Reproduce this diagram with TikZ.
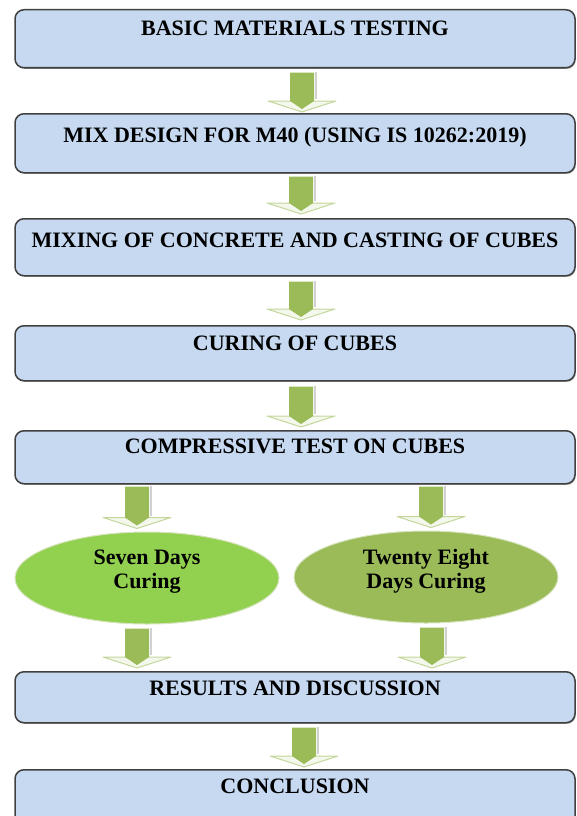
\documentclass[tikz,border=0pt]{standalone}
\usepackage{fontspec}
\setmainfont{Liberation Serif}
\usetikzlibrary{shapes.geometric,calc,shadows}

\definecolor{boxfill}{HTML}{C6D9F1}
\definecolor{boxedge}{HTML}{404040}
\definecolor{arrowgreen}{HTML}{9BBB59}
\definecolor{headfill}{HTML}{F4F8EC}
\definecolor{headedge}{HTML}{C3D69B}
\definecolor{brightgreen}{HTML}{92D050}
\definecolor{olivegreen}{HTML}{9BBB59}
\definecolor{ovaledge}{HTML}{D7E4BD}

\tikzset{
  stage/.style={rectangle, rounded corners=9pt, fill=boxfill, draw=boxedge,
    line width=1.5pt, minimum width=560pt, inner xsep=0pt, inner ysep=0pt,
    anchor=north, font=\fontsize{22}{24}\selectfont\bfseries,
    drop shadow={shadow xshift=0.8pt, shadow yshift=-1.2pt, fill=black, opacity=0.3}},
  oval/.style={ellipse, draw=ovaledge, line width=1pt, inner sep=0pt,
    minimum width=264pt, minimum height=92pt, align=center,
    font=\fontsize{22}{24}\selectfont\bfseries},
  arrowshadow/.style={draw=black!18, line width=1.2pt},
  arrowhead/.style={fill=headfill, draw=headedge, line width=1pt, line join=round},
  arrowbody/.style={fill=arrowgreen}
}

% wide block arrow: green shaft from #1 down to the tip #2
\newcommand\blockarrow[2]{%
  \draw[arrowshadow] let \p1=(#1), \p2=(#2) in (\x1+14pt,\y1+1pt) -- (\x1+14pt,\y2+13pt);
  \filldraw[arrowhead] let \p1=(#1), \p2=(#2) in
    (\x1-34pt,\y2+11pt) -- (\x1+34pt,\y2+11pt) -- (\x1,\y2) -- cycle;
  \fill[arrowbody] let \p1=(#1), \p2=(#2) in
    (\x1-12pt,\y1) -- (\x1+12pt,\y1) -- (\x1+12pt,\y2+11pt) -- (\x1,\y2+3pt)
    -- (\x1-12pt,\y2+11pt) -- cycle;
}

\begin{document}
\begin{tikzpicture}[x=1pt,y=-1pt]
  \useasboundingbox (0,0) rectangle (576,816);
  \clip (0,0) rectangle (576,816);

  % process stages
  \node[stage, text height=26pt, text depth=32pt] (b1) at (295,9) {BASIC MATERIALS TESTING};
  \node[stage, text height=29pt, text depth=30pt] (b2) at (295,113) {MIX DESIGN FOR M40 (USING IS 10262:2019)};
  \node[stage, text height=29pt, text depth=28pt] (b3) at (295,218) {MIXING OF CONCRETE AND CASTING OF CUBES};
  \node[stage, text height=25pt, text depth=30pt] (b4) at (295,325) {CURING OF CUBES};
  \node[stage, text height=23pt, text depth=30pt] (b5) at (295,430) {COMPRESSIVE TEST ON CUBES};

  % curing periods
  \node[oval, fill=brightgreen] (c7) at (147,578) {Seven Days\\Curing\\[-14pt]\strut};
  \node[oval, fill=olivegreen] (c28) at (426,577) {Twenty Eight\\Days Curing\\[-14pt]\strut};

  \node[stage, text height=24pt, text depth=27pt] (b6) at (295,671) {RESULTS AND DISCUSSION};
  \node[stage, text height=24pt, text depth=50pt] (b7) at (295,769) {CONCLUSION};

  % flow arrows
  \blockarrow{$(b1.south)+(7,4)$}{$(b2.north)+(7,-1)$}
  \blockarrow{$(b2.south)+(6,3)$}{$(b3.north)+(6,-4)$}
  \blockarrow{$(b3.south)+(6,5)$}{$(b4.north)+(6,-5)$}
  \blockarrow{$(b4.south)+(6,5)$}{$(b5.north)+(6,-3)$}
  \blockarrow{$(b5.south -| c7.north)+(-10,2)$}{$(c7.north)+(-10,-3)$}
  \blockarrow{$(b5.south -| c28.north)+(5,2)$}{$(c28.north)+(5,-3)$}
  \blockarrow{$(c7.south)+(-10,4)$}{$(b6.north -| c7.south)+(-10,-3)$}
  \blockarrow{$(c28.south)+(6,4)$}{$(b6.north -| c28.south)+(6,-3)$}
  \blockarrow{$(b6.south)+(9,4)$}{$(b7.north)+(9,-2)$}
\end{tikzpicture}
\end{document}
